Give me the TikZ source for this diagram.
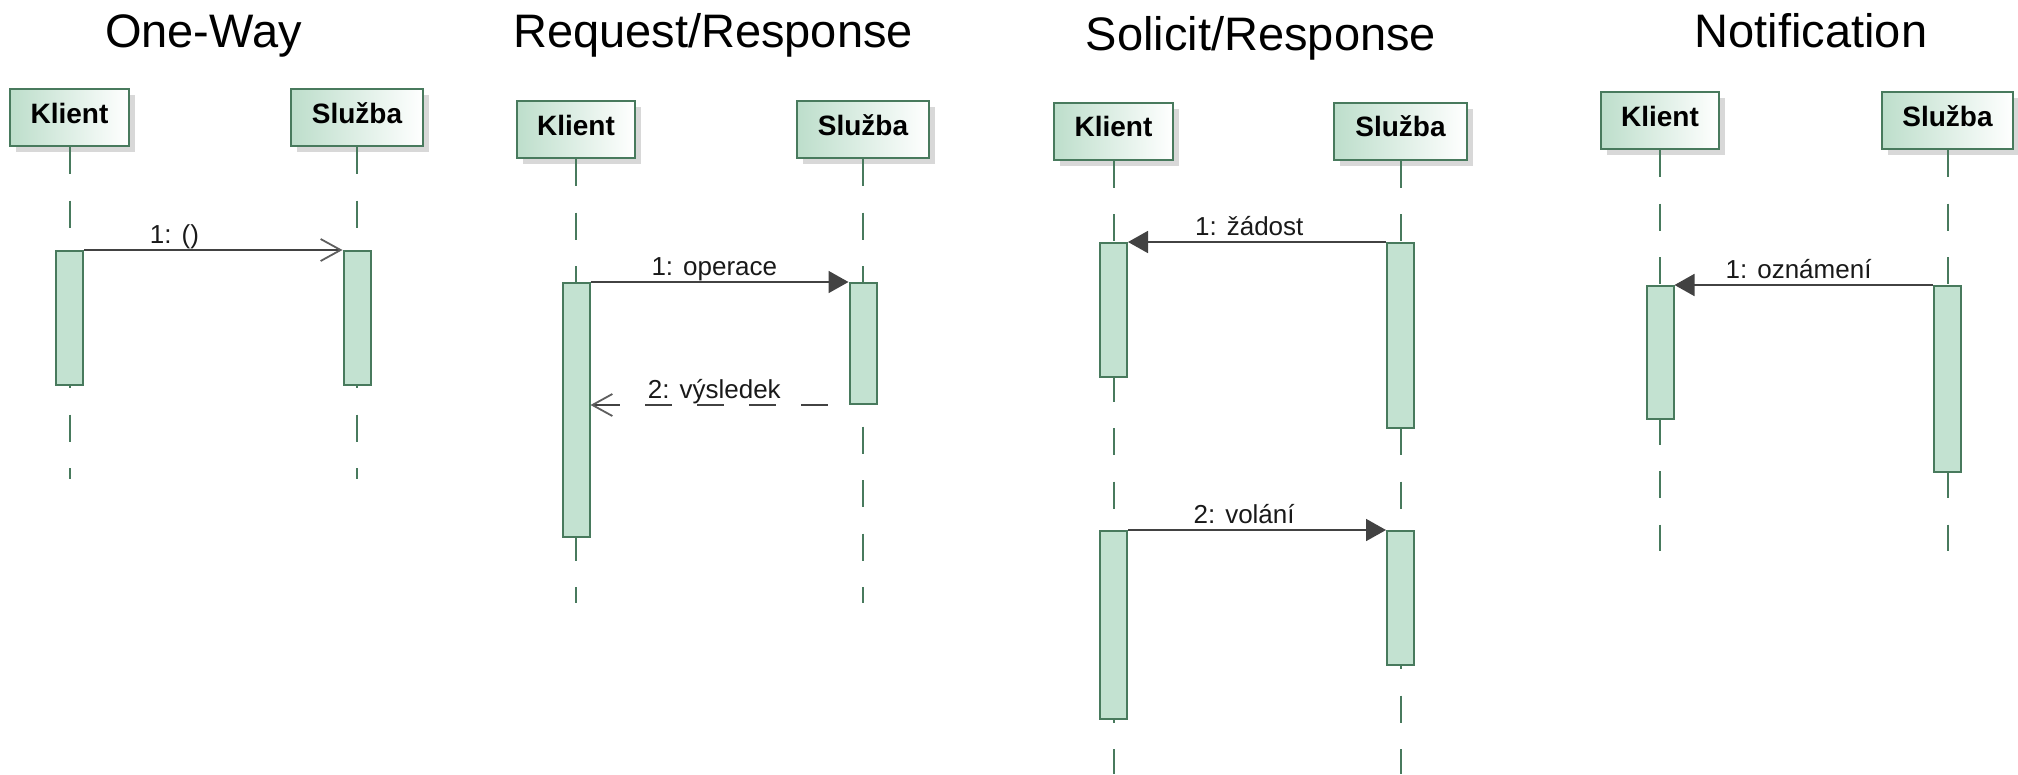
\documentclass[tikz,border=0pt]{standalone}
\usepackage{fontspec}
\setmainfont{Liberation Sans}
\usetikzlibrary{arrows.meta,shadows}

\definecolor{edge}{HTML}{487A5D}
\definecolor{partgreen}{HTML}{BDDECB}
\definecolor{actfill}{HTML}{C3E2D1}
\definecolor{msgline}{HTML}{424242}
\definecolor{barbgrey}{HTML}{5E5E5E}

\newcommand{\msggap}{\hspace{10pt}}

\tikzset{
  title/.style={font=\fontsize{47}{50}\selectfont, anchor=base, inner sep=0pt},
  part/.style={draw=edge, line width=2pt, left color=partgreen, right color=white,
    minimum height=57pt, inner sep=0pt, text height=20pt, text depth=9pt,
    font=\fontsize{28}{30}\selectfont\bfseries,
    drop shadow={shadow xshift=6pt, shadow yshift=-6pt, fill=black!30, draw=none}},
  lifeline/.style={draw=edge, line width=2pt, dash pattern=on 27pt off 26.5pt},
  act/.style={draw=edge, fill=actfill, line width=2pt, minimum width=27pt,
    inner sep=0pt, anchor=north},
  lbl/.style={font=\fontsize{26}{28}\selectfont, text=black!90, anchor=base,
    inner sep=0pt, yshift=7pt},
  call/.style={draw=msgline, line width=1.8pt,
    -{Triangle[length=20pt,width=22pt,fill=msgline]}},
  async/.style={draw=msgline, line width=1.8pt,
    -{Straight Barb[length=20pt,width=22pt,color=barbgrey]}},
  reply/.style={draw=msgline, line width=1.8pt, dash pattern=on 27pt off 25pt,
    {Straight Barb[length=20pt,width=22pt,color=barbgrey]}-},
}

\begin{document}
\begin{tikzpicture}[x=1pt,y=-1pt]
\useasboundingbox (0,0) rectangle (2018,774);

% headings
\node[title] (t1) at (203.5,47) {One-Way};
\node[title] (t2) at (713,47) {Request/Response};
\node[title] (t3) at (1261,50) {Solicit/Response};
\node[title] (t4) at (1811,47) {Notification};

% participants
\node[part, minimum width=119pt] (k1) at (69.5,117.5) {Klient};
\node[part, minimum width=132pt] (s1) at (357,117.5) {Služba};
\node[part, minimum width=118pt] (k2) at (576,129.5) {Klient};
\node[part, minimum width=132pt] (s2) at (863,129.5) {Služba};
\node[part, minimum width=119pt] (k3) at (1113.5,131) {Klient};
\node[part, minimum width=133pt] (s3) at (1400.5,131) {Služba};
\node[part, minimum width=118pt] (k4) at (1660,120.5) {Klient};
\node[part, minimum width=131pt] (s4) at (1947.5,120.5) {Služba};

% lifeline ends
\coordinate (k1e) at (k1.south |- 0,479);
\coordinate (s1e) at (s1.south |- 0,479);
\coordinate (k2e) at (k2.south |- 0,603);
\coordinate (s2e) at (s2.south |- 0,603);
\coordinate (k3e) at (k3.south |- 0,774);
\coordinate (s3e) at (s3.south |- 0,774);
\coordinate (k4e) at (k4.south |- 0,551);
\coordinate (s4e) at (s4.south |- 0,551);

\foreach \p in {k1,s1,k2,s2,k3,s3,k4,s4}
  \draw[lifeline] (\p.south) -- (\p e);

% activations
\node[act, minimum height=134pt] (k1a) at (k1.south |- 0,250) {};
\node[act, minimum height=134pt] (s1a) at (s1.south |- 0,250) {};
\node[act, minimum height=254pt] (k2a) at (k2.south |- 0,282) {};
\node[act, minimum height=121pt] (s2a) at (s2.south |- 0,282) {};
\node[act, minimum height=134pt] (k3a) at (k3.south |- 0,242) {};
\node[act, minimum height=185pt] (s3a) at (s3.south |- 0,242) {};
\node[act, minimum height=188pt] (k3b) at (k3.south |- 0,530) {};
\node[act, minimum height=134pt] (s3b) at (s3.south |- 0,530) {};
\node[act, minimum height=133pt] (k4a) at (k4.south |- 0,285) {};
\node[act, minimum height=186pt] (s4a) at (s4.south |- 0,285) {};

% messages
\draw[async] (k1a.north east) -- node[lbl, pos=0.35] {1:\msggap()} (s1a.north west);

\draw[call] (k2a.north east) -- node[lbl, pos=0.48] {1:\msggap operace} (s2a.north west);
\draw[reply] (k2a.east |- s2a.south) -- node[lbl, pos=0.48] {2:\msggap výsledek} (s2a.south west);

\draw[call] (s3a.north west) -- node[lbl, pos=0.53] {1:\msggap žádost} (k3a.north east);
\draw[call] (k3b.north east) -- node[lbl, pos=0.45] {2:\msggap volání} (s3b.north west);

\draw[call] (s4a.north west) -- node[lbl, pos=0.52] {1:\msggap oznámení} (k4a.north east);
\end{tikzpicture}
\end{document}
